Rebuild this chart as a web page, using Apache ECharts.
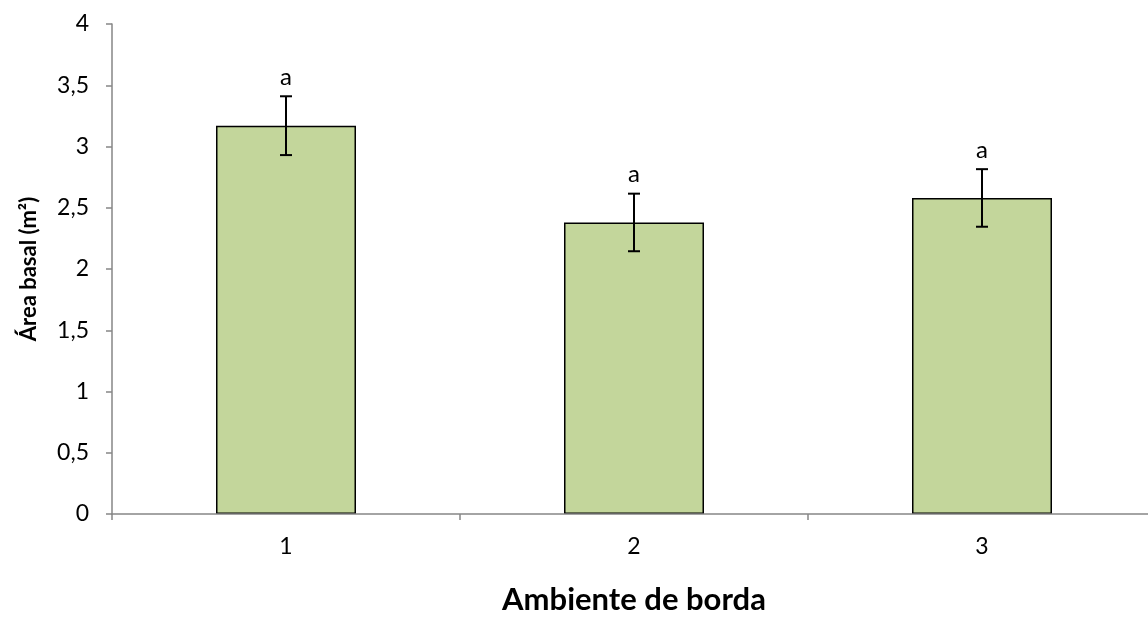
<!DOCTYPE html>
<html>
<head>
<meta charset="utf-8">
<script src="https://cdn.jsdelivr.net/npm/echarts@6/dist/echarts.min.js"></script>
<style>
  html, body { margin: 0; padding: 0; background: #fff; overflow: hidden; }
  /* the category axis runs a little past the right edge of the page */
  #chart { width: 1160px; height: 637px; }
</style>
</head>
<body>
<div id="chart"></div>
<script>
// Basal area by edge environment: means, standard errors and group letters
const categories = ['1', '2', '3'];
const means = [3.17, 2.38, 2.58];
const errors = [0.24, 0.235, 0.235];
const letters = ['a', 'a', 'a'];
const yTicks = [0, 0.5, 1, 1.5, 2, 2.5, 3, 3.5, 4];

const FONT = 'Lato';
const axisGray = '#868686';

const errData = categories.map((c, i) => [i, means[i], errors[i], letters[i]]);

const chart = echarts.init(document.getElementById('chart'), null, { renderer: 'canvas' });

chart.setOption({
  backgroundColor: '#ffffff',
  animation: false,
  textStyle: { fontFamily: FONT },
  grid: { left: 112, top: 24, width: 1044, height: 490, containLabel: false },
  xAxis: {
    type: 'category',
    data: categories,
    z: 5,
    name: 'Ambiente de borda',
    nameLocation: 'middle',
    nameGap: 70,
    nameTextStyle: { fontFamily: FONT, fontWeight: 'bold', fontSize: 31, color: '#000' },
    axisLine: { lineStyle: { color: axisGray, width: 1.5 } },
    axisTick: { show: true, alignWithLabel: false, length: 6, lineStyle: { color: axisGray, width: 1.5 } },
    axisLabel: { fontFamily: FONT, fontSize: 23, color: '#000', margin: 21 },
    splitLine: { show: false }
  },
  yAxis: {
    type: 'value',
    min: yTicks[0],
    max: yTicks[yTicks.length - 1],
    interval: yTicks[1] - yTicks[0],
    name: 'Área basal (m²)',
    nameLocation: 'middle',
    nameGap: 72,
    nameTextStyle: { fontFamily: FONT, fontWeight: 'bold', fontSize: 22, color: '#000' },
    axisLine: { show: true, lineStyle: { color: axisGray, width: 1.5 } },
    axisTick: { show: true, inside: false, length: 6, lineStyle: { color: axisGray, width: 1.5 } },
    axisLabel: {
      fontFamily: FONT, fontSize: 23, color: '#000', margin: 23,
      formatter: v => String(v).replace('.', ',')
    },
    splitLine: { show: false }
  },
  series: [
    {
      type: 'bar',
      data: means,
      barWidth: 140,
      z: 2,
      itemStyle: { color: '#C3D69B', borderColor: '#000', borderWidth: 1.5 }
    },
    {
      type: 'custom',
      data: errData,
      z: 6,
      renderItem: function (params, api) {
        const i = api.value(0);
        const m = api.value(1);
        const e = api.value(2);
        const top = api.coord([i, m + e]);
        const bot = api.coord([i, m - e]);
        const half = 6;
        const st = { stroke: '#000', lineWidth: 2 };
        return {
          type: 'group',
          children: [
            { type: 'line', shape: { x1: top[0], y1: top[1], x2: bot[0], y2: bot[1] }, style: st },
            { type: 'line', shape: { x1: top[0] - half, y1: top[1], x2: top[0] + half, y2: top[1] }, style: st },
            { type: 'line', shape: { x1: bot[0] - half, y1: bot[1], x2: bot[0] + half, y2: bot[1] }, style: st },
            {
              type: 'text',
              style: {
                text: letters[params.dataIndex],
                x: top[0], y: top[1] - 7,
                align: 'center', verticalAlign: 'bottom',
                fontFamily: FONT, fontSize: 24, fill: '#000'
              }
            }
          ]
        };
      }
    }
  ]
});
</script>
</body>
</html>
